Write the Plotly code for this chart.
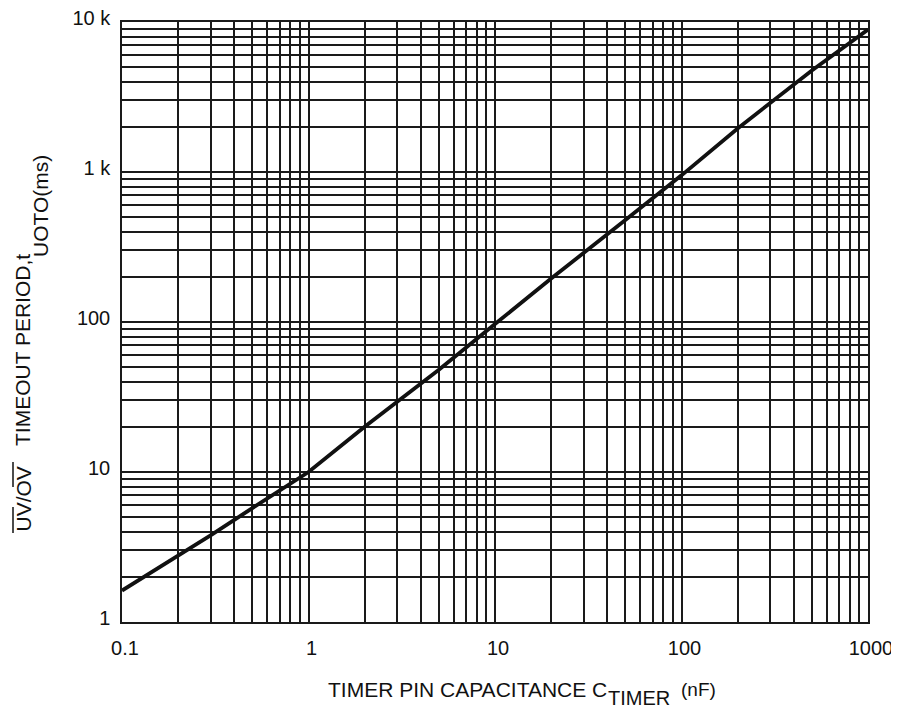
import plotly.graph_objects as go

# ---- data ----
cap_nF = [0.1, 0.2, 0.3, 0.5, 1, 2, 5, 10, 20, 50, 100, 200, 500, 1000]
timeout_ms = [1.62, 2.75, 3.8, 5.75, 10, 20, 48, 97, 195, 478, 950, 1950, 4750, 8900]

x_decades = [0.1, 1, 10, 100, 1000]
x_decade_labels = ["0.1", "1", "10", "100", "1000"]
y_decades = [1, 10, 100, 1000, 10000]
y_decade_labels = ["1", "10", "100", "1 k", "10 k"]


def log_grid(decades, labels):
    vals, texts = [], []
    for i, d in enumerate(decades):
        vals.append(d)
        texts.append(labels[i])
        if i < len(decades) - 1:
            for m in range(2, 10):
                vals.append(d * m)
                texts.append("")
    return vals, texts


xv, xt = log_grid(x_decades, x_decade_labels)
yv, yt = log_grid(y_decades, y_decade_labels)

# The page body adds an 8 px offset; figure is sized/placed to compensate.
OFF = 8
WIN_W, WIN_H = 899, 708
W, H = WIN_W - OFF, WIN_H - OFF
PL, PR, PT, PB = 122, 868, 22, 622          # plot area in window pixels
L, T = PL - OFF, PT - OFF
R, B = W - (PR - OFF), H - (PB - OFF)
PW, PH = PR - PL, PB - PT

FONT = "Liberation Sans, Arial, Helvetica, sans-serif"
GRID = "#1a1a1a"
INK = "#111111"

fig = go.Figure()
fig.add_trace(go.Scatter(
    x=cap_nF, y=timeout_ms, mode="lines",
    line=dict(color=INK, width=3.8), showlegend=False, hoverinfo="skip",
))


def px_x(p):
    return (p - PL) / PW


def px_y(p):
    return (PB - p) / PH


axis_common = dict(
    type="log", showgrid=True, gridcolor=GRID, gridwidth=1.5,
    showline=True, linecolor=GRID, linewidth=1.5, mirror=True,
    ticks="", zeroline=False, automargin=False,
    ticklabeloverflow="allow",
    tickfont=dict(family=FONT, size=20, color=INK),
    tickmode="array",
)

fig.update_layout(
    width=W, height=H,
    margin=dict(l=L, r=R, t=T, b=B, autoexpand=False),
    paper_bgcolor="white", plot_bgcolor="white",
    xaxis=dict(range=[-1, 3], tickvals=xv, ticktext=xt, ticklabelstandoff=7,
               ticklabelshift=3, **axis_common),
    yaxis=dict(range=[0, 4], tickvals=yv, ticktext=yt, ticklabelstandoff=6,
               ticklabelshift=-4, **axis_common),
)

ann = []
# x-axis title pieces
ann.append(dict(text="TIMER PIN CAPACITANCE C", x=px_x(327), y=px_y(689.5),
                xanchor="left", yanchor="middle", font=dict(size=21)))
ann.append(dict(text="TIMER", x=px_x(607), y=px_y(697.5),
                xanchor="left", yanchor="middle", font=dict(size=20)))
ann.append(dict(text="(nF)", x=px_x(680), y=px_y(689),
                xanchor="left", yanchor="middle", font=dict(size=19)))
# y-axis title pieces (rotated)
ann.append(dict(text="UV/OV", x=px_x(23), y=px_y(533),
                xanchor="center", yanchor="bottom", textangle=-90, font=dict(size=21)))
ann.append(dict(text="TIMEOUT PERIOD,t", x=px_x(23), y=px_y(447),
                xanchor="center", yanchor="bottom", textangle=-90, font=dict(size=21)))
ann.append(dict(text="UOTO(ms)", x=px_x(40), y=px_y(258),
                xanchor="center", yanchor="bottom", textangle=-90, font=dict(size=21)))

for a in ann:
    a.update(xref="paper", yref="paper", showarrow=False, borderpad=0)
    a["font"].update(family=FONT, color=INK)
fig.update_layout(annotations=ann)

# overlines above "UV" and "OV"
for y0, y1 in [(507, 533), (462, 487)]:
    fig.add_shape(type="line", xref="paper", yref="paper",
                  x0=px_x(13), x1=px_x(13), y0=px_y(y0), y1=px_y(y1),
                  line=dict(color=INK, width=1.5))

fig.write_html("out.html")
